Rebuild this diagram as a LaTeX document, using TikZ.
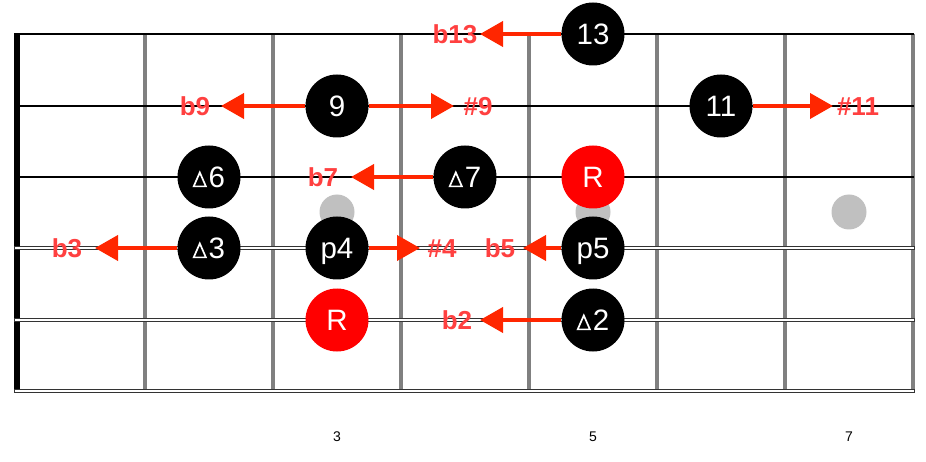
\documentclass[tikz,border=0pt]{standalone}
\usepackage{fontspec}
\setmainfont{Liberation Sans}
\usetikzlibrary{arrows.meta}
\definecolor{arrred}{RGB}{255,38,0}
\definecolor{lblred}{RGB}{255,64,64}
\definecolor{fretgray}{RGB}{128,128,128}
\definecolor{dotgray}{RGB}{192,192,192}
\newcommand{\tri}{\tikz[x=1pt,y=1pt,baseline=0pt]\draw[white,line width=1.7pt,line join=miter] (0.9,0.85) -- (13.1,0.85) -- (7,14.8) -- cycle;\kern2pt}
\tikzset{
  note/.style={circle, fill=black, text=white, minimum size=63pt, inner sep=0pt,
    font=\fontsize{29.5}{29.5}\selectfont, text height=20.5pt, text depth=0pt},
  rootnote/.style={note, fill=red},
  lbl/.style={text=lblred, font=\bfseries\fontsize{26}{26}\selectfont, inner sep=0pt,
    text height=19pt, text depth=0pt},
  arr/.style={draw=arrred, line width=4pt, -{Triangle[length=23pt,width=25pt]}},
  fret/.style={draw=fretgray, line width=4.6pt},
  plainstring/.style={draw=black, line width=1.2pt},
  woundstring/.style={draw=black!80, fill=white, line width=0.8pt},
  inlay/.style={circle, fill=dotgray, minimum size=35pt, inner sep=0pt},
  fretnum/.style={font=\fontsize{14}{14}\selectfont, inner sep=0pt}
}
\begin{document}
\begin{tikzpicture}[x=1pt,y=-1pt]
\useasboundingbox (0,0) rectangle (926,462);
% frets
\foreach \x in {145,273,401,529,657,785,913}
  \draw[fret] (\x,34) -- (\x,391);
% nut
\fill[black] (14,34) rectangle (20,390.5);
% strings
\draw[plainstring] (14,34) -- (914,34);
\draw[plainstring] (14,106) -- (914,106);
\draw[plainstring] (14,177) -- (914,177);
\draw[woundstring] (14,246.8) rectangle (914,249.8);
\draw[woundstring] (14,318.3) rectangle (914,321.3);
\draw[woundstring] (14,389.3) rectangle (914,392.3);
% inlays
\node[inlay] (d3) at (337,212) {};
\node[inlay] (d5) at (593,212) {};
\node[inlay] (d7) at (849,212) {};
% fret numbers
\node[fretnum] (f3) at (337,437) {3};
\node[fretnum] (f5) at (593,437) {5};
\node[fretnum] (f7) at (849,437) {7};
% notes
\node[note] (n13) at (593,34) {13};
\node[note] (n9) at (337,106) {9};
\node[note] (n11) at (721,106) {11};
\node[note] (n6) at (209,177) {\tri6};
\node[note] (n7) at (465,177) {\tri7};
\node[rootnote] (r1) at (593,177) {R};
\node[note] (n3) at (209,248) {\tri3};
\node[note] (n4) at (337,248) {p4};
\node[note] (n5) at (593,248) {p5};
\node[rootnote] (r2) at (337,320) {R};
\node[note] (n2) at (593,320) {\tri2};
% arrow tips
\coordinate (t13) at (480,34);
\coordinate (t9l) at (221,106);
\coordinate (t9r) at (454,106);
\coordinate (t11) at (833,106);
\coordinate (t7) at (351,177);
\coordinate (t3) at (95,248);
\coordinate (t4) at (420,248);
\coordinate (t5) at (523,248);
\coordinate (t2) at (480,320);
% arrows
\draw[arr] (n13.west) -- (t13);
\draw[arr] (n9.west) -- (t9l);
\draw[arr] (n9.east) -- (t9r);
\draw[arr] (n11.east) -- (t11);
\draw[arr] (n7.west) -- (t7);
\draw[arr] (n3.west) -- (t3);
\draw[arr] (n4.east) -- (t4);
\draw[arr] (n5.west) -- (t5);
\draw[arr] (n2.west) -- (t2);
% labels
\node[lbl] (lb13) at (455,34) {b13};
\node[lbl] (lb9) at (195,106) {b9};
\node[lbl] (ls9) at (478,106) {\#9};
\node[lbl] (ls11) at (858,106) {\#11};
\node[lbl] (lb7) at (323,177) {b7};
\node[lbl] (lb3) at (67,248) {b3};
\node[lbl] (ls4) at (442,248) {\#4};
\node[lbl] (lb5) at (500,248) {b5};
\node[lbl] (lb2) at (457,320) {b2};
\end{tikzpicture}
\end{document}
